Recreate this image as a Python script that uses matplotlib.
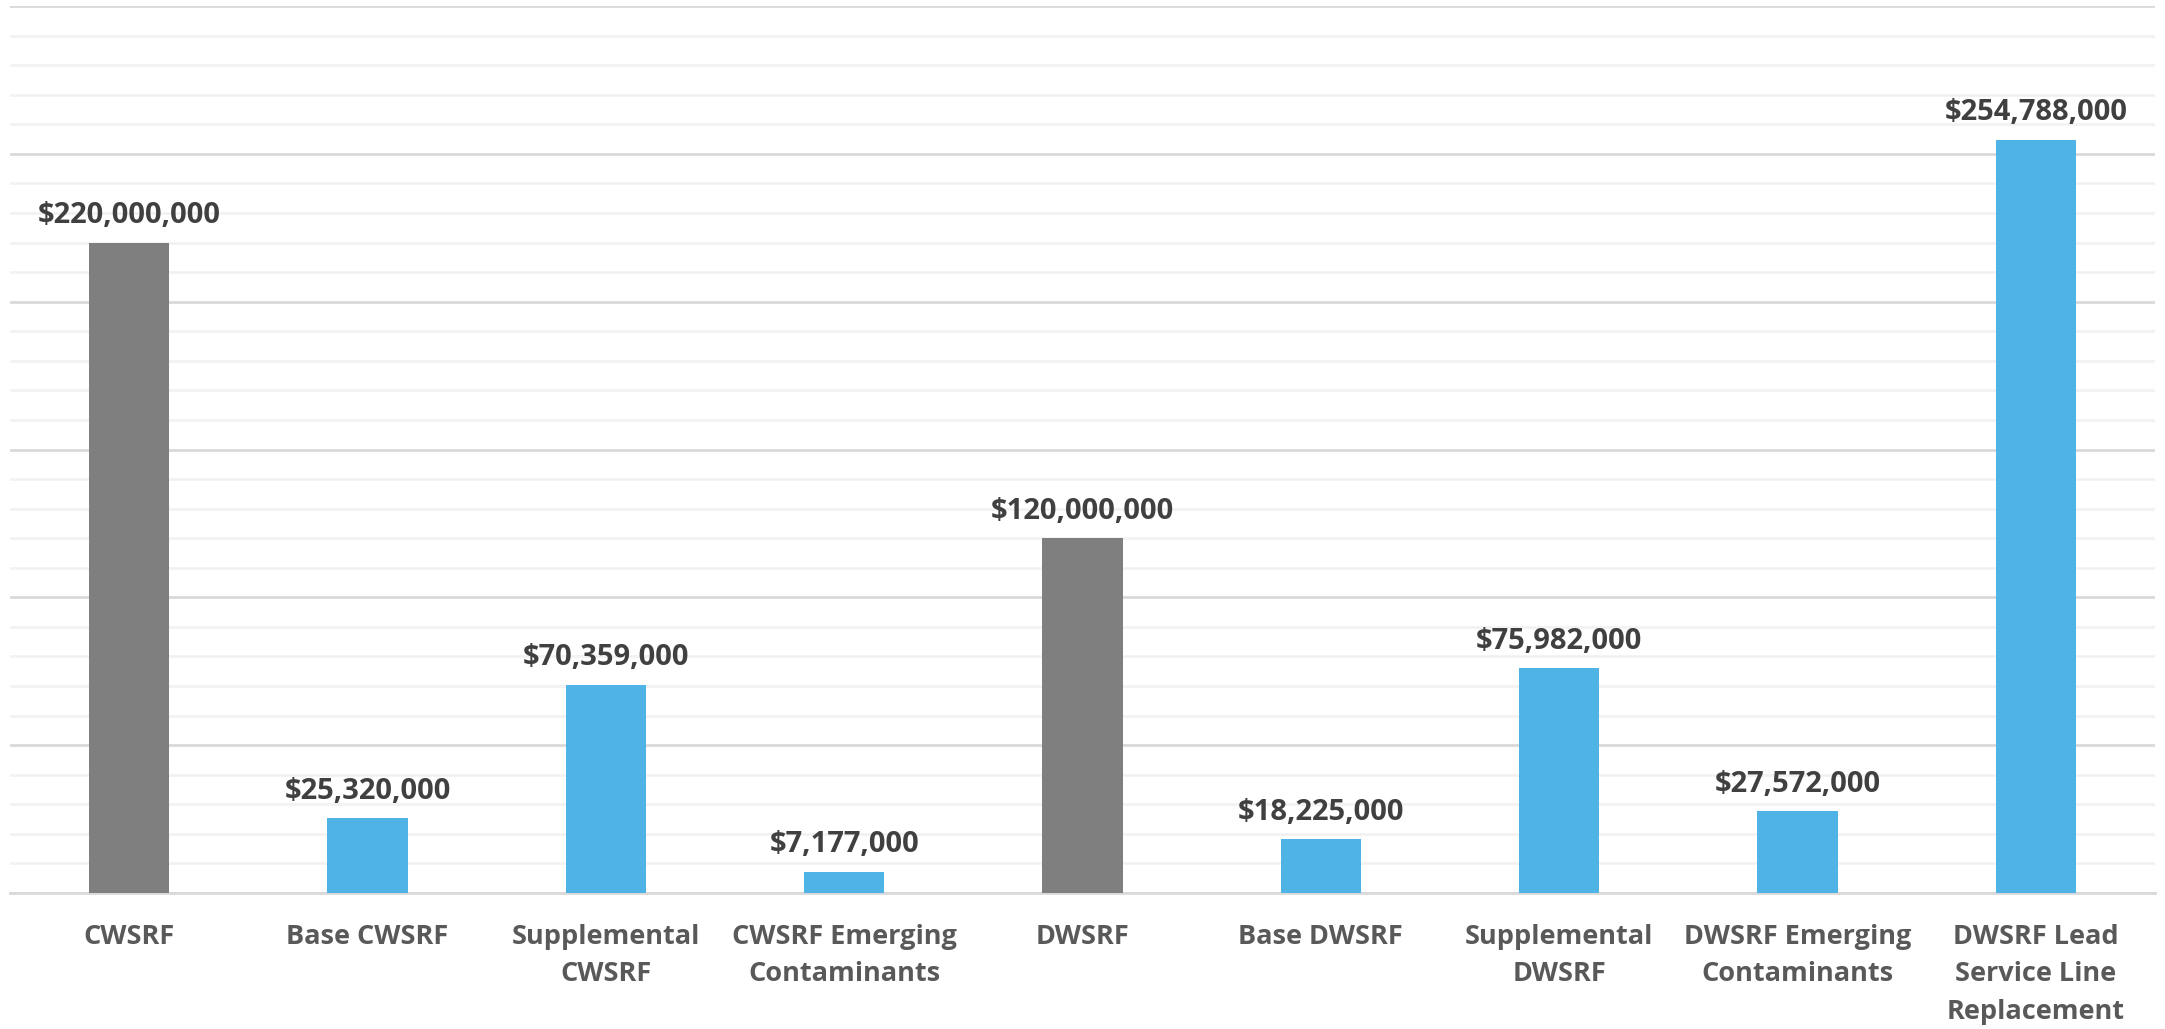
import matplotlib.pyplot as plt
import numpy as np

categorias = ['CWSRF', 'Base CWSRF', 'Supplemental\nCWSRF', 'CWSRF Emerging\nContaminants',
              'DWSRF', 'Base DWSRF', 'Supplemental\nDWSRF', 'DWSRF Emerging\nContaminants',
              'DWSRF Lead\nService Line\nReplacement']
valores = [220000000, 25320000, 70359000, 7177000, 120000000, 18225000, 75982000, 27572000, 254788000]
totais = ['CWSRF', 'DWSRF']

plt.rcParams['font.family'] = ['Open Sans', 'DejaVu Sans']

fig = plt.figure(figsize=(21.65, 10.29), dpi=100)
ax = fig.add_axes([10 / 2165, 136 / 1029, 2145 / 2165, 887 / 1029])

cores = ['#7F7F7F' if c in totais else '#4FB3E6' for c in categorias]
x = np.arange(len(categorias))
barras = ax.bar(x, valores, width=0.336, color=cores, zorder=3)

for b, v in zip(barras, valores):
    ax.annotate('${:,.0f}'.format(v), (b.get_x() + b.get_width() / 2, v),
                xytext=(0, 9), textcoords='offset points', ha='center', va='bottom',
                fontsize=21, fontweight='bold', color='#404040')

ax.set_xlim(-0.5, len(categorias) - 0.5)
ax.set_ylim(0, 300000000)
ax.set_yticks(np.arange(0, 300000001, 50000000))
ax.set_yticks(np.arange(0, 300000001, 10000000), minor=True)
ax.grid(axis='y', which='minor', color='#F2F2F2', linewidth=2, zorder=0)
ax.grid(axis='y', which='major', color='#D9D9D9', linewidth=2, zorder=1)
ax.tick_params(axis='y', which='both', left=False, labelleft=False)

ax.set_xticks(x)
ax.set_xticklabels(categorias, fontsize=19.5, fontweight='bold', color='#595959', linespacing=1.58)
ax.tick_params(axis='x', length=0, pad=22)

for s in ['top', 'right', 'left']:
    ax.spines[s].set_visible(False)
ax.spines['bottom'].set_color('#D9D9D9')
ax.spines['bottom'].set_linewidth(2)

plt.savefig('out.png', dpi=100)
